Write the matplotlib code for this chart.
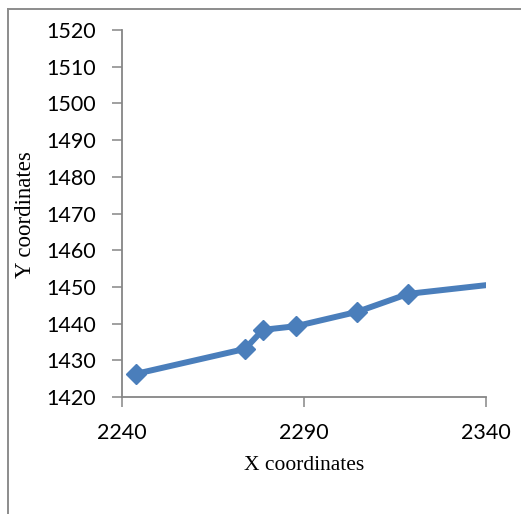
import matplotlib
matplotlib.use("Agg")
import matplotlib.pyplot as plt
from matplotlib.lines import Line2D

# traced path coordinates
x_coords = [2243.8, 2273.8, 2278.7, 2287.8, 2304.6, 2318.6, 2352.0]
y_coords = [1426.3, 1433.1, 1438.3, 1439.3, 1443.2, 1448.1, 1451.8]

x_ticks = [2240, 2290, 2340]
y_ticks = list(range(1420, 1521, 10))

line_color = "#4A7EBB"
axis_gray = "#868686"

W, H = 521, 514
fig = plt.figure(figsize=(W / 100, H / 100), dpi=100)
ax = fig.add_axes([122 / W, 1 - 397 / H, (486 - 122) / W, (397 - 30) / H])

ax.plot(x_coords, y_coords, color=line_color, lw=4.3, marker="D",
        markersize=10, markerfacecolor=line_color, markeredgecolor=line_color,
        solid_joinstyle="round")

ax.set_xlim(2240, 2340)
ax.set_ylim(1420, 1520)
ax.set_xticks(x_ticks)
ax.set_yticks(y_ticks)

for side in ("top", "right"):
    ax.spines[side].set_visible(False)
for side in ("left", "bottom"):
    ax.spines[side].set_color(axis_gray)
    ax.spines[side].set_linewidth(1.3)

ax.tick_params(axis="both", direction="out", length=7.5, width=1.1,
               color=axis_gray, labelsize=15.5)
ax.tick_params(axis="y", pad=11)
ax.tick_params(axis="x", pad=11)
for lab in ax.get_xticklabels() + ax.get_yticklabels():
    lab.set_family("Lato")

ax.set_xlabel("X coordinates", family="Liberation Serif", fontsize=15.5)
ax.set_ylabel("Y coordinates", family="Liberation Serif", fontsize=16.5)
ax.xaxis.set_label_coords(0.5, (397 - 466) / 367)
ax.xaxis.label.set_va("center")
ax.yaxis.set_label_coords((25 - 122) / 364, (397 - 215) / 367)
ax.yaxis.label.set_va("center")

# chart border (top and left edges)
fig.add_artist(Line2D([8 / W, 8 / W], [0, 1 - 9 / H],
                      transform=fig.transFigure, color="#8C8C8C", lw=1.4))
fig.add_artist(Line2D([8 / W, 1], [1 - 9 / H, 1 - 9 / H],
                      transform=fig.transFigure, color="#8C8C8C", lw=1.4))

fig.savefig("out.png", dpi=100)
